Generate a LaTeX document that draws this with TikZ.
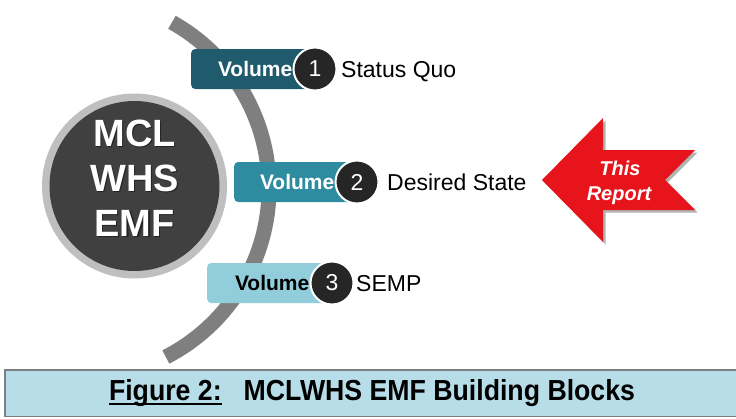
\documentclass[tikz,border=0pt]{standalone}
\usepackage{fontspec}
\setmainfont{Liberation Sans}
\newfontfamily\capfont[FakeStretch=0.92]{Liberation Sans}
\usetikzlibrary{shadows,calc}

\definecolor{arcgray}{HTML}{7F7F7F}
\definecolor{ringgray}{HTML}{BFBFBF}
\definecolor{hubfill}{HTML}{404040}
\definecolor{discfill}{HTML}{262626}
\definecolor{volA}{HTML}{1F5B6C}
\definecolor{volB}{HTML}{2F8BA0}
\definecolor{volC}{HTML}{92CDDC}
\definecolor{arrowred}{HTML}{E8141B}
\definecolor{capfill}{HTML}{B7DEE8}
\definecolor{capborder}{HTML}{7F7F7F}

% underlined word with a heavy rule
\newcommand\ulfig[1]{\setbox0\hbox{#1}\rlap{\rule[-5.3pt]{\wd0}{2pt}}\box0}

\begin{document}
\begin{tikzpicture}[x=1pt,y=-1pt,
  volbox/.style={rectangle, rounded corners=4pt, minimum height=40pt,
    minimum width=124pt, anchor=west, inner sep=0pt},
  numdisc/.style={circle, fill=discfill, draw=white, line width=2pt,
    minimum size=43pt, inner sep=0pt, text=white,
    font=\fontsize{23}{23}\selectfont},
  voltext/.style={anchor=east, inner sep=0pt,
    font=\fontsize{21}{21}\selectfont\bfseries},
  sidelabel/.style={anchor=base west, inner sep=0pt, text=black,
    font=\fontsize{23}{23}\selectfont},
  hubtext/.style={anchor=base, inner sep=0pt, text=white,
    font=\fontsize{38}{38}\selectfont\bfseries},
  hubshade/.style={hubtext, text=black, opacity=0.45},
  reporttext/.style={anchor=base, inner sep=0pt, text=white,
    font=\fontsize{20}{20}\selectfont\bfseries\itshape}]

\useasboundingbox (0,0) rectangle (736,418);
\fill[white] (0,0) rectangle (736,418);

% sweeping gray arc behind the volume tabs
\draw[arcgray, line width=15pt]
  ($(79,188)+(-60.7:190)$) arc[start angle=-60.7, end angle=62.8, radius=190];

% central hub
\node[circle, fill=ringgray, minimum size=185pt, inner sep=0pt] (hub) at (134.5,186) {};
\node[circle, fill=hubfill, minimum size=170pt, inner sep=0pt] (hubcore) at (hub.center) {};
\node[hubshade] at (135.8,147.8) {MCL};
\node[hubshade] at (135.8,192.8) {WHS};
\node[hubshade] at (135.8,237.8) {EMF};
\node[hubtext] (h1) at (134.5,146.5) {MCL};
\node[hubtext] (h2) at (134.5,191.5) {WHS};
\node[hubtext] (h3) at (134.5,236.5) {EMF};

% volume 1
\node[volbox, fill=volA] (v1) at (191,69) {};
\node[numdisc] (n1) at (315,69) {1};
\node[voltext, text=white] (t1) at (n1.west) {Volume};
\node[sidelabel] (s1) at (341,77) {Status Quo};

% volume 2
\node[volbox, fill=volB] (v2) at (234,182) {};
\node[numdisc] (n2) at (357,182) {2};
\node[voltext, text=white] (t2) at (n2.west) {Volume};
\node[sidelabel] (s2) at (387,190) {Desired State};

% volume 3
\node[volbox, fill=volC] (v3) at (207,283) {};
\node[numdisc] (n3) at (332,283) {3};
\node[voltext, text=black] (t3) at (n3.west) {Volume};
\node[sidelabel] (s3) at (356,291.5) {SEMP};

% red pointer
\fill[arrowred, drop shadow={shadow xshift=2.5pt, shadow yshift=-2.5pt, opacity=0.3, fill=black}]
  (542,180) -- (603,118) -- (603,150) -- (695,150) -- (665,180)
  -- (695,210) -- (603,210) -- (603,242) -- cycle;
\node[reporttext] (r1) at (620,175) {This};
\node[reporttext] (r2) at (619,200) {Report};

% caption bar
\fill[capfill] (5,370) rectangle (737,417);
\draw[capborder, line width=2.2pt] (4.25,370) -- (737,370);
\draw[capborder, line width=1.5pt] (5,370) -- (5,417);
\draw[capborder, line width=1.3pt] (4.25,416.4) -- (737,416.4);
\node[anchor=base, inner sep=0pt, font=\capfont\bfseries\fontsize{29}{29}\selectfont]
  (cap) at (372,400) {\ulfig{Figure 2:}\hspace{22pt}MCLWHS EMF Building Blocks};

\end{tikzpicture}
\end{document}
